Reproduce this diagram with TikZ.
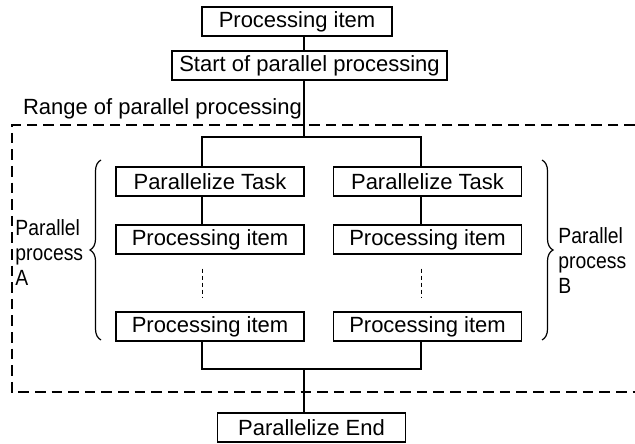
\documentclass[tikz,border=0pt]{standalone}
\usepackage{fontspec}
\setmainfont{Liberation Sans}
\newfontfamily\narrowsans{Liberation Sans}[FakeStretch=0.88]
\usetikzlibrary{calc,positioning,decorations.pathreplacing}

\begin{document}
\begin{tikzpicture}[
  x=0.5pt,y=-0.5pt,
  font=\fontsize{11}{12.5}\selectfont,
  box/.style={draw,line width=0.6pt,minimum width=94pt,minimum height=14.5pt,inner sep=0pt},
  side/.style={anchor=west,align=left,inner sep=0pt,font=\narrowsans\fontsize{11}{12.5}\selectfont},
  link/.style={line width=0.6pt},
  dots/.style={line width=0.5pt,dash pattern=on 2pt off 1.5pt},
  rangeline/.style={line width=1.1pt,dash pattern=on 5.3pt off 3pt},
  brace/.style={decorate,decoration={brace,amplitude=5.5pt},line width=0.6pt}
]
\useasboundingbox (0,0) rectangle (635,443);
\coordinate (colA) at (202,0);
\coordinate (colB) at (421,0);
\coordinate (mid) at (304,0);
\coordinate (split) at (304,137);
\coordinate (join) at (304,369);

\node[box,minimum width=95pt] (top) at (297,21.5) {Processing item};
\node[box,minimum width=137.5pt] (start) at (309.5,65.5) {Start of parallel processing};
\node[anchor=base west] (rangelabel) at (16,115) {Range of parallel processing};

\node[box] (taskA) at (210,181.5) {Parallelize Task};
\node[box] (taskB) at (427.5,181.5) {Parallelize Task};
\node[box] (itemA) at (210,239.5) {Processing item};
\node[box] (itemB) at (427.5,239.5) {Processing item};
\node[box] (lastA) at (210,326.5) {Processing item};
\node[box] (lastB) at (427.5,326.5) {Processing item};
\node[box] (endbox) at (311.5,427.5) {Parallelize End};

\node[side] (procA) at (15,253) {Parallel\\process\\A};
\node[side] (procB) at (558,261) {Parallel\\process\\B};

% range of parallel processing
\draw[rangeline] (635,125) -| (12,392) -- (635,392);

% flow
\draw[link] (top.south -| mid) -- (start.north -| mid);
\draw[link] (start.south -| mid) -- (split);
\draw[link] (taskA.north -| colA) |- (split) -| (taskB.north -| colB);
\draw[link] (taskA.south -| colA) -- (itemA.north -| colA);
\draw[link] (taskB.south -| colB) -- (itemB.north -| colB);
\draw[dots] ($(itemA.south -| colA)+(0,14)$) -- ($(lastA.north -| colA)+(0,-14)$);
\draw[dots] ($(itemB.south -| colB)+(0,14)$) -- ($(lastB.north -| colB)+(0,-14)$);
\draw[link] (lastA.south -| colA) |- (join) -| (lastB.south -| colB);
\draw[link] (join) -- (endbox.north -| mid);

% braces
\draw[brace] (101,340) -- (101,160);
\draw[brace] (542,160) -- (542,340);
\end{tikzpicture}
\end{document}
